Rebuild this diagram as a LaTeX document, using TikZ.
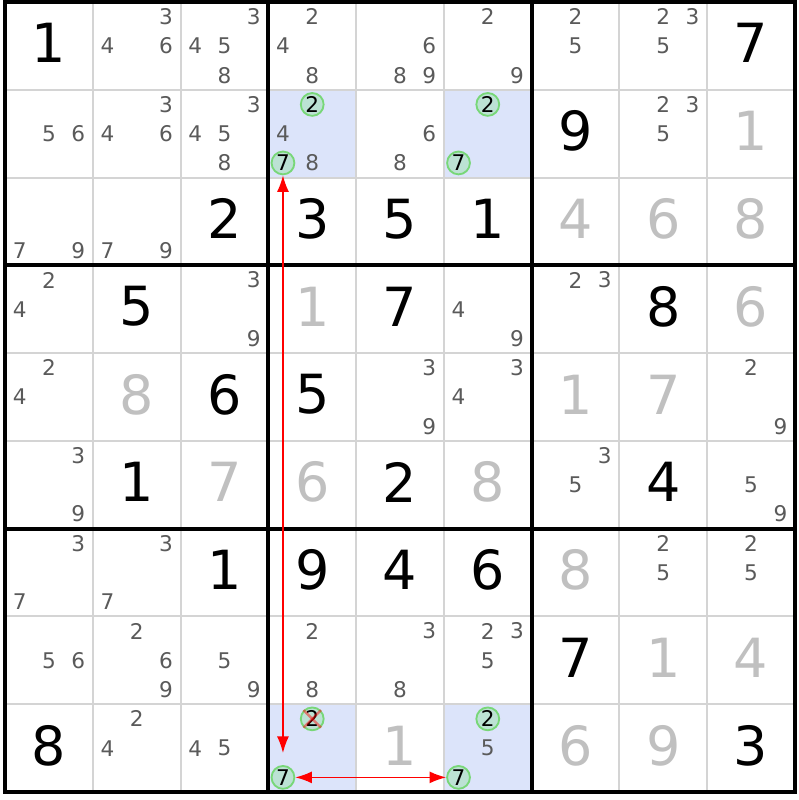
\documentclass[tikz,border=0pt]{standalone}
\usepackage{fontspec}
\setmainfont{DejaVu Sans}
\usetikzlibrary{arrows.meta}
\definecolor{candgray}{RGB}{90,90,90}
\definecolor{solvgray}{RGB}{192,192,192}
\definecolor{gridgray}{RGB}{212,212,212}
\definecolor{hilite}{RGB}{220,228,250}
\definecolor{ringfill}{RGB}{188,226,212}
\definecolor{ringdraw}{RGB}{120,215,120}
\def\given(#1,#2)#3{\node[given] (g#1#2) at (#2+0.5,#1+0.47) {#3};}
\def\solved(#1,#2)#3{\node[solved] (s#1#2) at (#2+0.5,#1+0.47) {#3};}
\def\cands(#1,#2)#3{\foreach \n in {#3}{%
    \pgfmathtruncatemacro\sx{mod(\n-1,3)}\pgfmathtruncatemacro\sy{(\n-1)/3}%
    \node[cand] (c#1#2n\n) at (#2+\sx/3+1/6,#1+\sy/3+1/6) {\n};}}
\def\ring(#1,#2)#3{%
    \pgfmathtruncatemacro\sx{mod(#3-1,3)}\pgfmathtruncatemacro\sy{(#3-1)/3}%
    \node[ring] (r#1c#2n#3) at (#2+\sx/3+1/6,#1+\sy/3+1/6) {#3};}

\begin{document}
\begin{tikzpicture}[y=-1cm,
    given/.style={font=\fontsize{17.5}{17.5}\selectfont, text=black},
    solved/.style={font=\fontsize{17.5}{17.5}\selectfont, text=solvgray},
    cand/.style={font=\fontsize{7}{7}\selectfont, text=candgray, inner sep=0pt},
    ring/.style={circle, draw=ringdraw, fill=ringfill, line width=0.6pt, inner sep=0pt,
        minimum size=7.4pt, font=\fontsize{7}{7}\selectfont, text=black},
    thingrid/.style={gridgray, line width=0.65pt},
    thickgrid/.style={black, line width=1.3pt},
    link/.style={red, line width=0.5pt, <->, >={Latex[length=5.4pt,width=3.9pt]}}]
    %%%%% GRID %%%%%
    \useasboundingbox (-0.057,-0.023) rectangle (9.045,9.091);
    \fill[white] (-0.057,-0.023) rectangle (9.045,9.091);

    \fill[hilite] (3,1) rectangle (4,2);
    \fill[hilite] (5,1) rectangle (6,2);
    \fill[hilite] (3,8) rectangle (4,9);
    \fill[hilite] (5,8) rectangle (6,9);

    \foreach \i in {1,2,4,5,7,8} {
        \draw[thingrid] (\i,0) -- (\i,9);
        \draw[thingrid] (0,\i) -- (9,\i);
    }
    \foreach \i in {3,6} {
        \draw[thickgrid] (\i,0) -- (\i,9);
        \draw[thickgrid] (0,\i) -- (9,\i);
    }
    \draw[thickgrid] (0,0) rectangle (9,9);

    %%%%% ROW 0 %%%%%
    \given(0,0){1} \cands(0,1){3,4,6} \cands(0,2){3,4,5,8}
    \cands(0,3){2,4,8} \cands(0,4){6,8,9} \cands(0,5){2,9}
    \cands(0,6){2,5} \cands(0,7){2,3,5} \given(0,8){7}
    %%%%% ROW 1 %%%%%
    \cands(1,0){5,6} \cands(1,1){3,4,6} \cands(1,2){3,4,5,8}
    \cands(1,3){4,8} \ring(1,3){2} \ring(1,3){7}
    \cands(1,4){6,8} \ring(1,5){2} \ring(1,5){7}
    \given(1,6){9} \cands(1,7){2,3,5} \solved(1,8){1}
    %%%%% ROW 2 %%%%%
    \cands(2,0){7,9} \cands(2,1){7,9} \given(2,2){2}
    \given(2,3){3} \given(2,4){5} \given(2,5){1}
    \solved(2,6){4} \solved(2,7){6} \solved(2,8){8}
    %%%%% ROW 3 %%%%%
    \cands(3,0){2,4} \given(3,1){5} \cands(3,2){3,9}
    \solved(3,3){1} \given(3,4){7} \cands(3,5){4,9}
    \cands(3,6){2,3} \given(3,7){8} \solved(3,8){6}
    %%%%% ROW 4 %%%%%
    \cands(4,0){2,4} \solved(4,1){8} \given(4,2){6}
    \given(4,3){5} \cands(4,4){3,9} \cands(4,5){3,4}
    \solved(4,6){1} \solved(4,7){7} \cands(4,8){2,9}
    %%%%% ROW 5 %%%%%
    \cands(5,0){3,9} \given(5,1){1} \solved(5,2){7}
    \solved(5,3){6} \given(5,4){2} \solved(5,5){8}
    \cands(5,6){3,5} \given(5,7){4} \cands(5,8){5,9}
    %%%%% ROW 6 %%%%%
    \cands(6,0){3,7} \cands(6,1){3,7} \given(6,2){1}
    \given(6,3){9} \given(6,4){4} \given(6,5){6}
    \solved(6,6){8} \cands(6,7){2,5} \cands(6,8){2,5}
    %%%%% ROW 7 %%%%%
    \cands(7,0){5,6} \cands(7,1){2,6,9} \cands(7,2){5,9}
    \cands(7,3){2,8} \cands(7,4){3,8} \cands(7,5){2,3,5}
    \given(7,6){7} \solved(7,7){1} \solved(7,8){4}
    %%%%% ROW 8 %%%%%
    \given(8,0){8} \cands(8,1){2,4} \cands(8,2){4,5}
    \ring(8,3){2} \ring(8,3){7} \solved(8,4){1}
    \cands(8,5){5} \ring(8,5){2} \ring(8,5){7}
    \solved(8,6){6} \solved(8,7){9} \given(8,8){3}

    %%%%% ELIMINATION + LINKS %%%%%
    \draw[red, opacity=0.45, line width=0.8pt] (r8c3n2.north west) -- (r8c3n2.south east);
    \draw[red, opacity=0.45, line width=0.8pt] (r8c3n2.north east) -- (r8c3n2.south west);
    \draw[link, shorten >=3.9pt] (r1c3n7) -- (r8c3n7);
    \draw[link] (r8c3n7) -- (r8c5n7);
\end{tikzpicture}
\end{document}
